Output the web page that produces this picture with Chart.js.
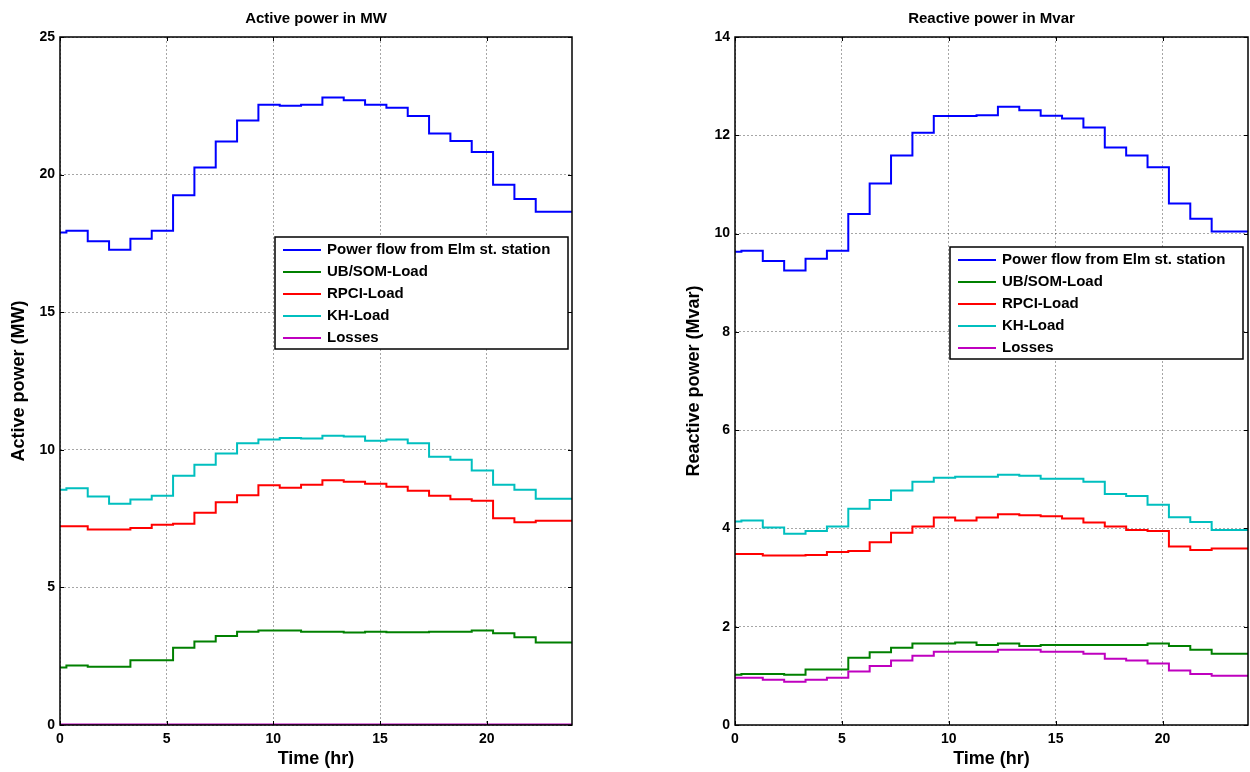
<!DOCTYPE html>
<html>
<head>
<meta charset="utf-8">
<script src="https://cdn.jsdelivr.net/npm/chart.js@4"></script>
<style>
    html, body { margin: 0; padding: 0; background: #fff; }
    .panel { position: absolute; top: 0; width: 575px; height: 772px; }
    #left { left: 0; }
    #right { left: 675px; }
</style>
</head>
<body>
<div class="panel" id="left"><canvas id="activeChart"></canvas></div>
<div class="panel" id="right"><canvas id="reactiveChart"></canvas></div>
<script>
/* Active / reactive power flow — hourly step profiles */

// time (hr) where each step level starts; last entry closes the final step
const stepTimes = [0, 0.3, 1.3, 2.3, 3.3, 4.3, 5.3, 6.3, 7.3, 8.3, 9.3, 10.3, 11.3,
    12.3, 13.3, 14.3, 15.3, 16.3, 17.3, 18.3, 19.3, 20.3, 21.3, 22.3, 24];

const seriesNames = ['Power flow from Elm st. station', 'UB/SOM-Load', 'RPCI-Load', 'KH-Load', 'Losses'];

// Active power (MW)
const activeElm = [17.90, 17.96, 17.58, 17.27, 17.67, 17.96, 19.25, 20.26, 21.20, 21.97, 22.54, 22.50,
    22.54, 22.80, 22.70, 22.54, 22.43, 22.13, 21.49, 21.22, 20.82, 19.63, 19.11, 18.65];
const activeUbSom = [2.09, 2.16, 2.12, 2.12, 2.35, 2.35, 2.81, 3.03, 3.23, 3.39, 3.43, 3.43,
    3.39, 3.39, 3.36, 3.39, 3.37, 3.37, 3.39, 3.39, 3.43, 3.33, 3.19, 3.00];
const activeRpci = [7.22, 7.22, 7.10, 7.10, 7.16, 7.28, 7.31, 7.71, 8.09, 8.35, 8.71, 8.62,
    8.73, 8.89, 8.84, 8.77, 8.66, 8.51, 8.33, 8.20, 8.15, 7.51, 7.37, 7.42];
const activeKh = [8.55, 8.60, 8.30, 8.04, 8.19, 8.33, 9.06, 9.46, 9.87, 10.24, 10.37, 10.43,
    10.41, 10.51, 10.48, 10.33, 10.37, 10.24, 9.75, 9.64, 9.25, 8.73, 8.55, 8.22];
const activeLosses = [0.02, 0.02, 0.02, 0.02, 0.02, 0.02, 0.02, 0.02, 0.02, 0.02, 0.02, 0.02,
    0.02, 0.02, 0.02, 0.02, 0.02, 0.02, 0.02, 0.02, 0.02, 0.02, 0.02, 0.02];

// Reactive power (Mvar)
const reactiveElm = [9.63, 9.65, 9.44, 9.25, 9.49, 9.65, 10.40, 11.02, 11.59, 12.05, 12.39, 12.39,
    12.41, 12.58, 12.51, 12.40, 12.34, 12.16, 11.75, 11.59, 11.35, 10.61, 10.30, 10.04];
const reactiveUbSom = [1.02, 1.04, 1.04, 1.02, 1.13, 1.13, 1.37, 1.48, 1.57, 1.66, 1.66, 1.68,
    1.63, 1.66, 1.61, 1.63, 1.63, 1.63, 1.63, 1.63, 1.66, 1.61, 1.53, 1.45];
const reactiveRpci = [3.48, 3.48, 3.45, 3.45, 3.46, 3.52, 3.54, 3.72, 3.91, 4.04, 4.22, 4.16,
    4.22, 4.29, 4.27, 4.25, 4.20, 4.12, 4.04, 3.97, 3.95, 3.63, 3.56, 3.59];
const reactiveKh = [4.14, 4.16, 4.02, 3.89, 3.95, 4.04, 4.40, 4.58, 4.77, 4.95, 5.03, 5.05,
    5.05, 5.09, 5.07, 5.01, 5.01, 4.95, 4.70, 4.66, 4.48, 4.23, 4.13, 3.97];
const reactiveLosses = [0.96, 0.96, 0.92, 0.88, 0.92, 0.96, 1.09, 1.20, 1.31, 1.41, 1.49, 1.49,
    1.49, 1.53, 1.53, 1.49, 1.49, 1.45, 1.35, 1.31, 1.25, 1.11, 1.04, 1.00];

const lineColors = ['#0000ff', '#008000', '#ff0000', '#00bfbf', '#bf00bf'];
const FONT = '"Liberation Sans", Arial, sans-serif';

// each point carries the level that starts there; last point repeats the final level
function toSteps(levels) {
    return stepTimes.map((t, i) => ({ x: t, y: levels[Math.min(i, levels.length - 1)] }));
}

function makeDatasets(all) {
    return all.map((levels, i) => ({
        label: seriesNames[i],
        data: toSteps(levels),
        borderColor: lineColors[i],
        borderWidth: 2,
        pointRadius: 0,
        stepped: 'before',
        fill: false,
        order: all.length - i,
    }));
}

// full axes box + inward tick marks, matlab style
const boxPlugin = {
    id: 'axesBox',
    afterDatasetsDraw(chart) {
        const { ctx, chartArea: a, scales } = chart;
        ctx.save();
        ctx.strokeStyle = '#000';
        ctx.lineWidth = 1;
        const tl = 4;
        ctx.beginPath();
        scales.x.ticks.forEach(t => {
            const px = Math.round(scales.x.getPixelForValue(t.value)) + 0.5;
            ctx.moveTo(px, a.bottom); ctx.lineTo(px, a.bottom - tl);
            ctx.moveTo(px, a.top); ctx.lineTo(px, a.top + tl);
        });
        scales.y.ticks.forEach(t => {
            const py = Math.round(scales.y.getPixelForValue(t.value)) + 0.5;
            ctx.moveTo(a.left, py); ctx.lineTo(a.left + tl, py);
            ctx.moveTo(a.right, py); ctx.lineTo(a.right - tl, py);
        });
        ctx.stroke();
        ctx.lineWidth = 1.5;
        ctx.strokeRect(a.left, a.top, a.right - a.left, a.bottom - a.top);
        ctx.restore();
    },
};

// boxed legend drawn inside the axes
const boxLegendPlugin = {
    id: 'boxLegend',
    afterDraw(chart, args, opts) {
        const { ctx } = chart;
        const { x, y, w, h } = opts;
        ctx.save();
        ctx.fillStyle = '#fff';
        ctx.fillRect(x, y, w, h);
        ctx.strokeStyle = '#000';
        ctx.lineWidth = 1.5;
        ctx.strokeRect(x, y, w, h);
        ctx.font = 'bold 15px ' + FONT;
        ctx.textBaseline = 'middle';
        chart.data.datasets.forEach((ds, i) => {
            const cy = y + 13 + i * 22;
            ctx.strokeStyle = ds.borderColor;
            ctx.lineWidth = 2;
            ctx.beginPath();
            ctx.moveTo(x + 8, cy);
            ctx.lineTo(x + 46, cy);
            ctx.stroke();
            ctx.fillStyle = '#000';
            ctx.fillText(ds.label, x + 52, cy);
        });
        ctx.restore();
    },
};

function makeChart(canvasId, title, yTitle, yMax, yStep, all, legendTop, rightPad) {
    const gridStyle = { color: 'rgba(0,0,0,0.35)', lineWidth: 1, drawTicks: false };
    const tickFont = { family: FONT, size: 14, weight: 'bold' };
    return new Chart(document.getElementById(canvasId), {
        type: 'line',
        data: { datasets: makeDatasets(all) },
        options: {
            responsive: true,
            maintainAspectRatio: false,
            animation: false,
            layout: { padding: { left: 0, right: rightPad, top: 0, bottom: 0 } },
            plugins: {
                legend: { display: false },
                tooltip: { enabled: false },
                title: {
                    display: true,
                    fullSize: false,
                    text: title,
                    color: '#000',
                    font: { family: FONT, size: 15, weight: 'bold' },
                    padding: { top: 10, bottom: 9 },
                },
                boxLegend: { x: 275, y: legendTop, w: 293, h: 112 },
            },
            scales: {
                x: {
                    type: 'linear',
                    min: 0,
                    max: 24,
                    grid: gridStyle,
                    border: { display: false, dash: [2, 2] },
                    ticks: { stepSize: 5, includeBounds: false, padding: 6, color: '#000', font: tickFont },
                    title: {
                        display: true,
                        text: 'Time (hr)',
                        color: '#000',
                        font: { family: FONT, size: 18, weight: 'bold' },
                        padding: { top: 0, bottom: 2 },
                    },
                    afterFit: s => { s.height = 47; },
                },
                y: {
                    min: 0,
                    max: yMax,
                    grid: gridStyle,
                    border: { display: false, dash: [2, 2] },
                    ticks: { stepSize: yStep, padding: 5, color: '#000', font: tickFont },
                    title: {
                        display: true,
                        text: yTitle,
                        color: '#000',
                        font: { family: FONT, size: 18, weight: 'bold' },
                        padding: { top: 8, bottom: 0 },
                    },
                    afterFit: s => { s.width = 60; },
                },
            },
        },
        plugins: [boxPlugin, boxLegendPlugin],
    });
}

makeChart('activeChart', 'Active power in MW', 'Active power (MW)', 25, 5,
    [activeElm, activeUbSom, activeRpci, activeKh, activeLosses], 237, 3);
makeChart('reactiveChart', 'Reactive power in Mvar', 'Reactive power (Mvar)', 14, 2,
    [reactiveElm, reactiveUbSom, reactiveRpci, reactiveKh, reactiveLosses], 247, 2);
</script>
</body>
</html>
